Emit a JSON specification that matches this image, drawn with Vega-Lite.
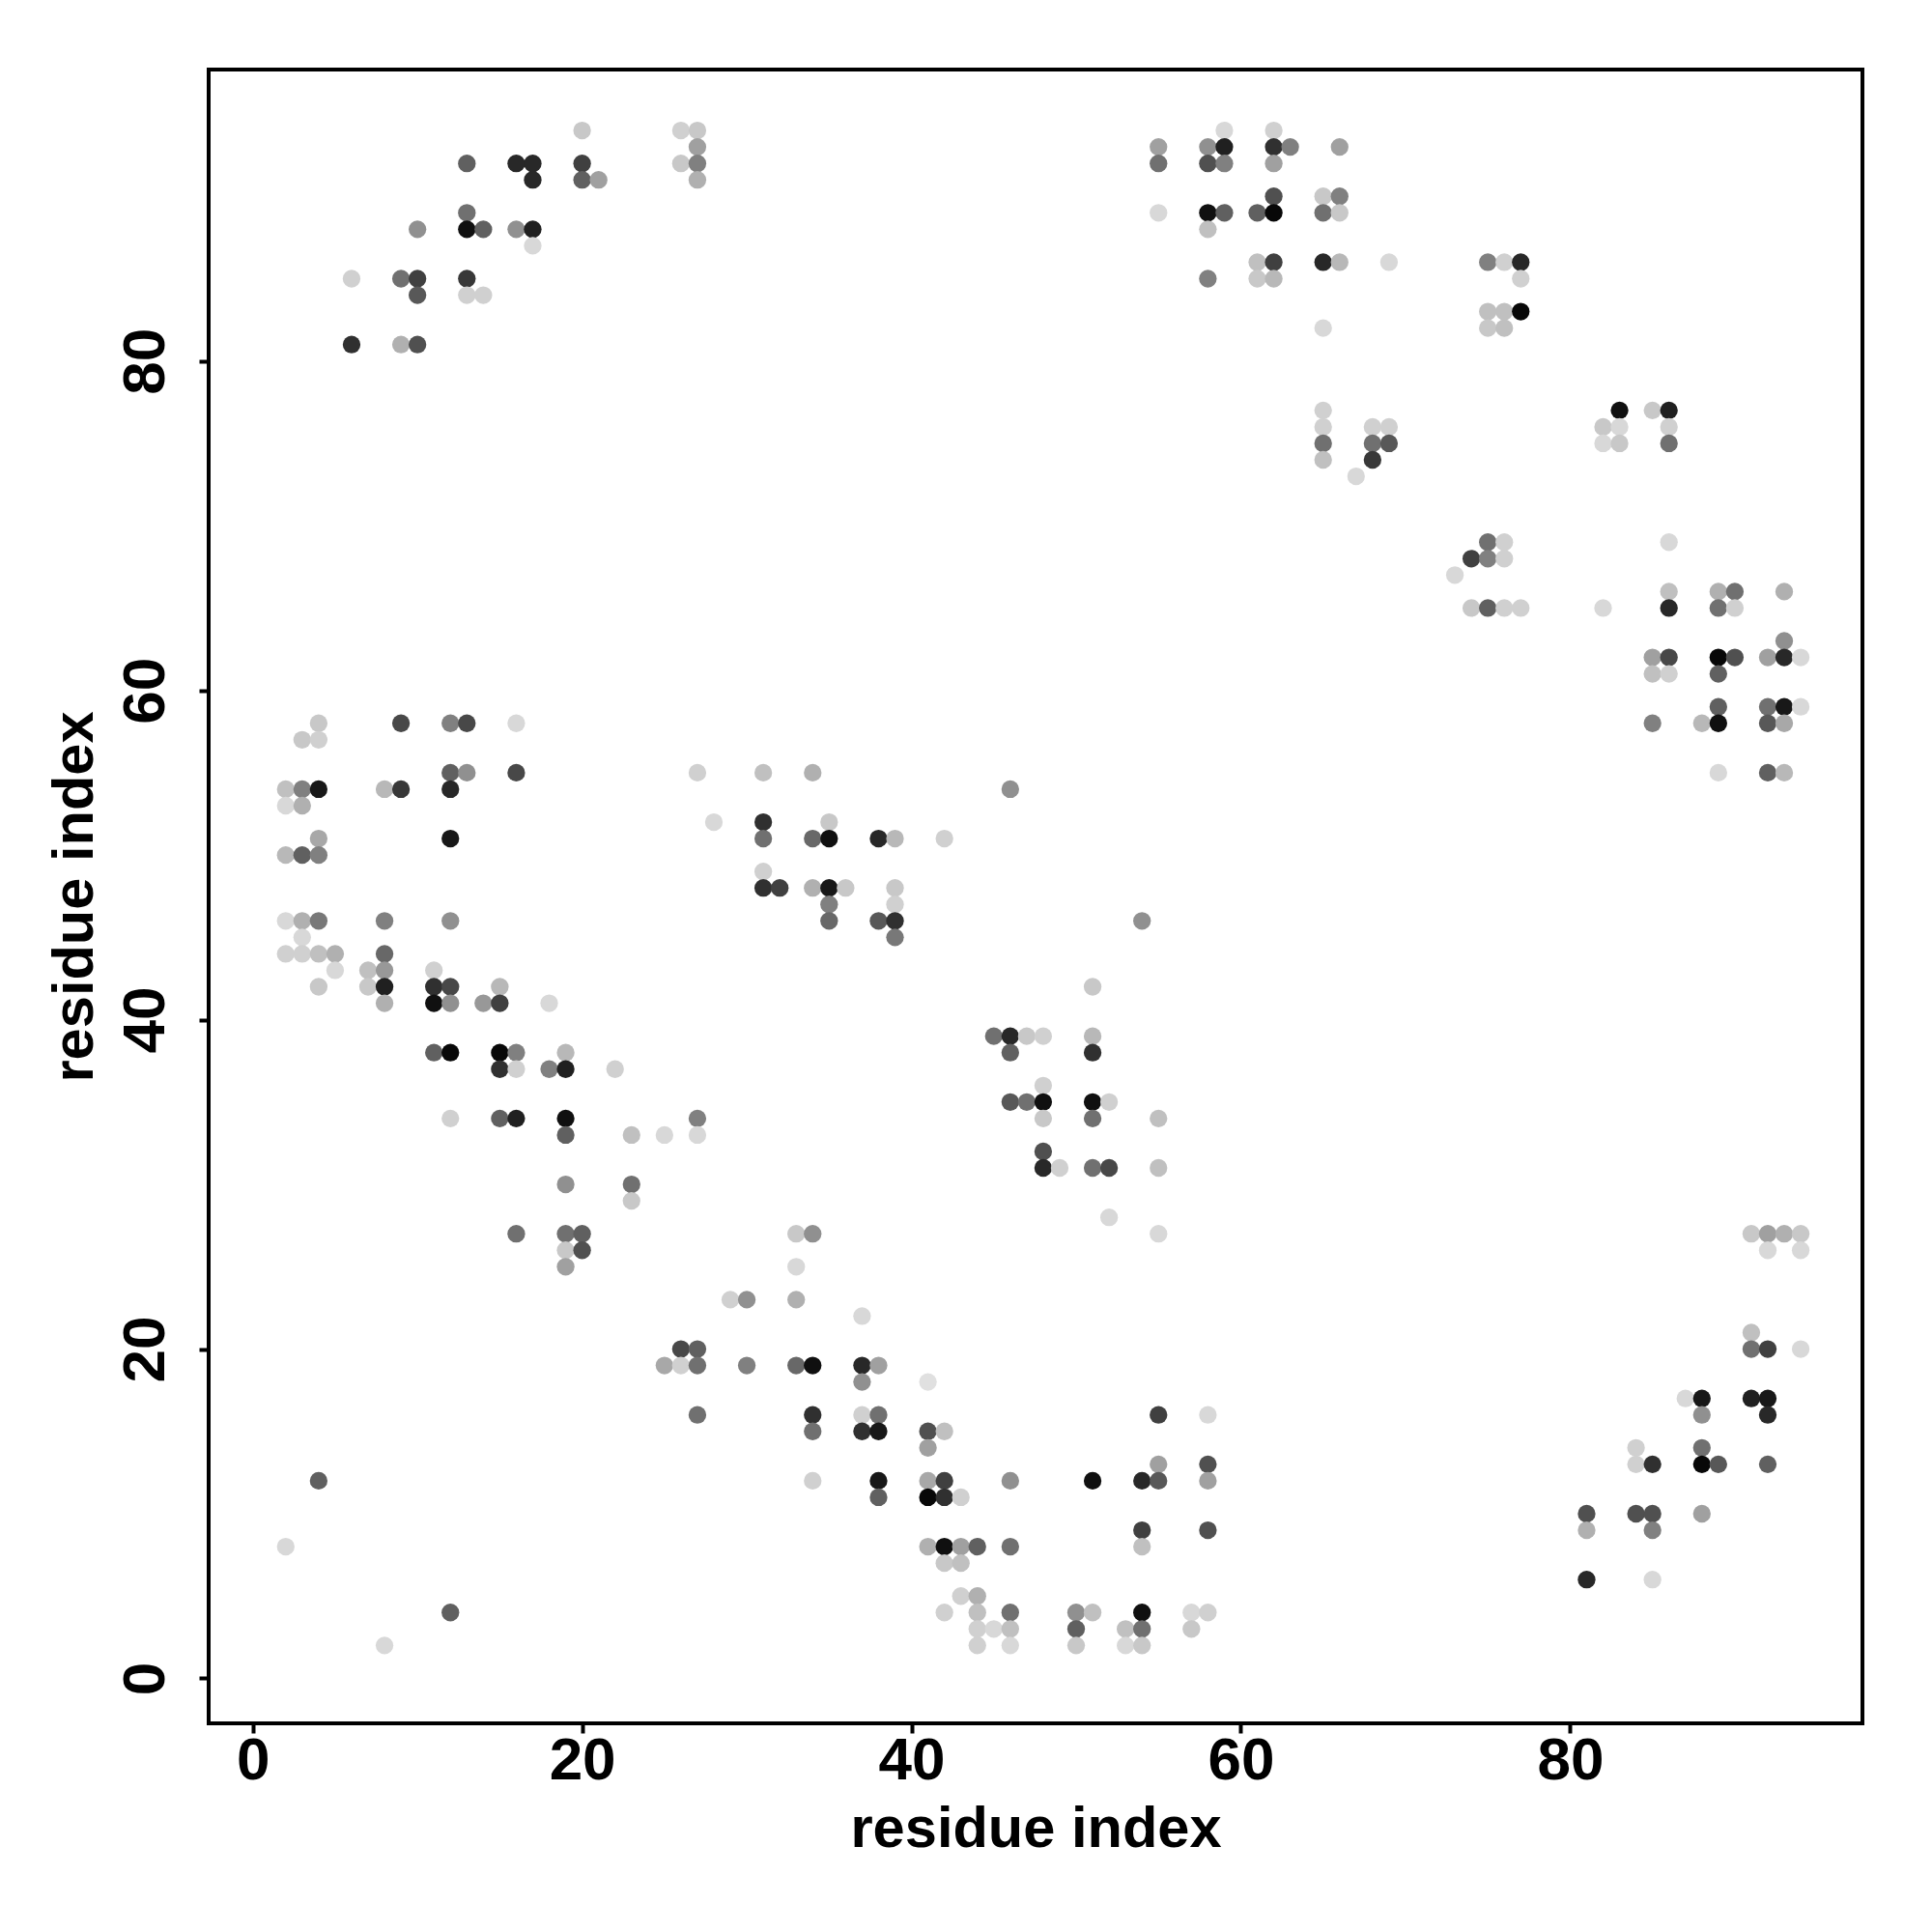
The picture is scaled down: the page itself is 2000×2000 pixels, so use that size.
{"$schema":"https://vega.github.io/schema/vega-lite/v6.json","width":1712,"height":1712,"autosize":"none","padding":{"left":216,"top":72,"right":72,"bottom":216},"background":"white","view":{"stroke":"black","strokeWidth":4,"fill":"white"},
"data":{"values":[
{"x":20,"y":94,"s":55},{"x":26,"y":94,"s":47},{"x":27,"y":94,"s":55},{"x":59,"y":94,"s":39},{"x":62,"y":94,"s":47},
{"x":27,"y":93,"s":95},{"x":55,"y":93,"s":95},{"x":58,"y":93,"s":111},{"x":59,"y":93,"s":223},{"x":62,"y":93,"s":207},{"x":63,"y":93,"s":127},{"x":66,"y":93,"s":95},
{"x":13,"y":92,"s":159},{"x":16,"y":92,"s":215},{"x":17,"y":92,"s":215},{"x":20,"y":92,"s":191},{"x":26,"y":92,"s":55},{"x":27,"y":92,"s":127},{"x":55,"y":92,"s":143},{"x":58,"y":92,"s":175},{"x":59,"y":92,"s":127},{"x":62,"y":92,"s":95},
{"x":17,"y":91,"s":215},{"x":20,"y":91,"s":159},{"x":21,"y":91,"s":95},{"x":27,"y":91,"s":79},
{"x":62,"y":90,"s":175},{"x":65,"y":90,"s":55},{"x":66,"y":90,"s":127},
{"x":13,"y":89,"s":143},{"x":55,"y":89,"s":39},{"x":58,"y":89,"s":239},{"x":59,"y":89,"s":159},{"x":61,"y":89,"s":159},{"x":62,"y":89,"s":247},{"x":65,"y":89,"s":143},{"x":66,"y":89,"s":55},
{"x":10,"y":88,"s":111},{"x":13,"y":88,"s":239},{"x":14,"y":88,"s":159},{"x":16,"y":88,"s":111},{"x":17,"y":88,"s":223},{"x":58,"y":88,"s":63},
{"x":17,"y":87,"s":39},
{"x":61,"y":86,"s":63},{"x":62,"y":86,"s":191},{"x":65,"y":86,"s":215},{"x":66,"y":86,"s":71},{"x":69,"y":86,"s":39},{"x":75,"y":86,"s":127},{"x":76,"y":86,"s":47},{"x":77,"y":86,"s":215},
{"x":6,"y":85,"s":47},{"x":9,"y":85,"s":143},{"x":10,"y":85,"s":191},{"x":13,"y":85,"s":199},{"x":58,"y":85,"s":127},{"x":61,"y":85,"s":55},{"x":62,"y":85,"s":71},{"x":77,"y":85,"s":47},
{"x":10,"y":84,"s":167},{"x":13,"y":84,"s":47},{"x":14,"y":84,"s":47},
{"x":75,"y":83,"s":63},{"x":76,"y":83,"s":63},{"x":77,"y":83,"s":247},
{"x":65,"y":82,"s":39},{"x":75,"y":82,"s":55},{"x":76,"y":82,"s":63},
{"x":6,"y":81,"s":207},{"x":9,"y":81,"s":79},{"x":10,"y":81,"s":175},
{"x":65,"y":77,"s":47},{"x":83,"y":77,"s":239},{"x":85,"y":77,"s":55},{"x":86,"y":77,"s":223},
{"x":65,"y":76,"s":47},{"x":68,"y":76,"s":47},{"x":69,"y":76,"s":47},{"x":82,"y":76,"s":55},{"x":83,"y":76,"s":39},{"x":86,"y":76,"s":47},
{"x":65,"y":75,"s":143},{"x":68,"y":75,"s":143},{"x":69,"y":75,"s":167},{"x":82,"y":75,"s":39},{"x":83,"y":75,"s":55},{"x":86,"y":75,"s":143},
{"x":65,"y":74,"s":63},{"x":68,"y":74,"s":199},
{"x":67,"y":73,"s":39},
{"x":75,"y":69,"s":143},{"x":76,"y":69,"s":47},{"x":86,"y":69,"s":39},
{"x":74,"y":68,"s":191},{"x":75,"y":68,"s":127},{"x":76,"y":68,"s":47},
{"x":73,"y":67,"s":39},
{"x":86,"y":66,"s":63},{"x":89,"y":66,"s":79},{"x":90,"y":66,"s":143},{"x":93,"y":66,"s":79},
{"x":74,"y":65,"s":55},{"x":75,"y":65,"s":159},{"x":76,"y":65,"s":47},{"x":77,"y":65,"s":47},{"x":82,"y":65,"s":39},{"x":86,"y":65,"s":215},{"x":89,"y":65,"s":143},{"x":90,"y":65,"s":47},
{"x":93,"y":63,"s":111},
{"x":85,"y":62,"s":95},{"x":86,"y":62,"s":183},{"x":89,"y":62,"s":247},{"x":90,"y":62,"s":175},{"x":92,"y":62,"s":95},{"x":93,"y":62,"s":215},{"x":94,"y":62,"s":39},
{"x":85,"y":61,"s":63},{"x":86,"y":61,"s":47},{"x":89,"y":61,"s":159},
{"x":89,"y":59,"s":159},{"x":92,"y":59,"s":143},{"x":93,"y":59,"s":231},{"x":94,"y":59,"s":39},
{"x":4,"y":58,"s":55},{"x":9,"y":58,"s":183},{"x":12,"y":58,"s":127},{"x":13,"y":58,"s":183},{"x":16,"y":58,"s":39},{"x":85,"y":58,"s":127},{"x":88,"y":58,"s":71},{"x":89,"y":58,"s":239},{"x":92,"y":58,"s":167},{"x":93,"y":58,"s":87},
{"x":3,"y":57,"s":55},{"x":4,"y":57,"s":47},
{"x":12,"y":55,"s":159},{"x":13,"y":55,"s":111},{"x":16,"y":55,"s":183},{"x":27,"y":55,"s":47},{"x":31,"y":55,"s":63},{"x":34,"y":55,"s":79},{"x":89,"y":55,"s":39},{"x":92,"y":55,"s":159},{"x":93,"y":55,"s":71},
{"x":2,"y":54,"s":63},{"x":3,"y":54,"s":127},{"x":4,"y":54,"s":231},{"x":8,"y":54,"s":71},{"x":9,"y":54,"s":199},{"x":12,"y":54,"s":215},{"x":46,"y":54,"s":111},
{"x":2,"y":53,"s":39},{"x":3,"y":53,"s":79},
{"x":28,"y":52,"s":39},{"x":31,"y":52,"s":207},{"x":35,"y":52,"s":55},
{"x":4,"y":51,"s":87},{"x":12,"y":51,"s":231},{"x":31,"y":51,"s":143},{"x":34,"y":51,"s":151},{"x":35,"y":51,"s":239},{"x":38,"y":51,"s":215},{"x":39,"y":51,"s":71},{"x":42,"y":51,"s":47},
{"x":2,"y":50,"s":71},{"x":3,"y":50,"s":159},{"x":4,"y":50,"s":127},
{"x":31,"y":49,"s":47},
{"x":31,"y":48,"s":207},{"x":32,"y":48,"s":191},{"x":34,"y":48,"s":79},{"x":35,"y":48,"s":231},{"x":36,"y":48,"s":55},{"x":39,"y":48,"s":55},
{"x":35,"y":47,"s":127},{"x":39,"y":47,"s":47},
{"x":2,"y":46,"s":39},{"x":3,"y":46,"s":79},{"x":4,"y":46,"s":135},{"x":8,"y":46,"s":127},{"x":12,"y":46,"s":111},{"x":35,"y":46,"s":151},{"x":38,"y":46,"s":167},{"x":39,"y":46,"s":207},{"x":54,"y":46,"s":111},
{"x":3,"y":45,"s":39},{"x":39,"y":45,"s":135},
{"x":2,"y":44,"s":47},{"x":3,"y":44,"s":47},{"x":4,"y":44,"s":63},{"x":5,"y":44,"s":79},{"x":8,"y":44,"s":151},
{"x":5,"y":43,"s":39},{"x":7,"y":43,"s":63},{"x":8,"y":43,"s":103},{"x":11,"y":43,"s":47},
{"x":4,"y":42,"s":55},{"x":7,"y":42,"s":55},{"x":8,"y":42,"s":223},{"x":11,"y":42,"s":207},{"x":12,"y":42,"s":183},{"x":15,"y":42,"s":71},{"x":51,"y":42,"s":55},
{"x":8,"y":41,"s":79},{"x":11,"y":41,"s":239},{"x":12,"y":41,"s":111},{"x":14,"y":41,"s":103},{"x":15,"y":41,"s":191},{"x":18,"y":41,"s":39},
{"x":45,"y":39,"s":143},{"x":46,"y":39,"s":215},{"x":47,"y":39,"s":55},{"x":48,"y":39,"s":47},{"x":51,"y":39,"s":71},
{"x":11,"y":38,"s":159},{"x":12,"y":38,"s":247},{"x":15,"y":38,"s":247},{"x":16,"y":38,"s":127},{"x":19,"y":38,"s":71},{"x":46,"y":38,"s":159},{"x":51,"y":38,"s":207},
{"x":15,"y":37,"s":207},{"x":16,"y":37,"s":47},{"x":18,"y":37,"s":127},{"x":19,"y":37,"s":223},{"x":22,"y":37,"s":47},
{"x":48,"y":36,"s":47},
{"x":46,"y":35,"s":167},{"x":47,"y":35,"s":143},{"x":48,"y":35,"s":239},{"x":51,"y":35,"s":239},{"x":52,"y":35,"s":47},
{"x":12,"y":34,"s":47},{"x":15,"y":34,"s":159},{"x":16,"y":34,"s":223},{"x":19,"y":34,"s":239},{"x":27,"y":34,"s":127},{"x":48,"y":34,"s":55},{"x":51,"y":34,"s":143},{"x":55,"y":34,"s":63},
{"x":19,"y":33,"s":159},{"x":23,"y":33,"s":63},{"x":25,"y":33,"s":39},{"x":27,"y":33,"s":39},
{"x":48,"y":32,"s":175},
{"x":48,"y":31,"s":215},{"x":49,"y":31,"s":47},{"x":51,"y":31,"s":143},{"x":52,"y":31,"s":183},{"x":55,"y":31,"s":63},
{"x":19,"y":30,"s":111},{"x":23,"y":30,"s":143},
{"x":23,"y":29,"s":55},
{"x":52,"y":28,"s":39},
{"x":16,"y":27,"s":143},{"x":19,"y":27,"s":143},{"x":20,"y":27,"s":159},{"x":33,"y":27,"s":55},{"x":34,"y":27,"s":111},{"x":55,"y":27,"s":39},{"x":91,"y":27,"s":55},{"x":92,"y":27,"s":95},{"x":93,"y":27,"s":79},{"x":94,"y":27,"s":55},
{"x":19,"y":26,"s":55},{"x":20,"y":26,"s":175},{"x":92,"y":26,"s":39},{"x":94,"y":26,"s":39},
{"x":19,"y":25,"s":95},{"x":33,"y":25,"s":39},
{"x":29,"y":23,"s":47},{"x":30,"y":23,"s":111},{"x":33,"y":23,"s":79},
{"x":37,"y":22,"s":39},
{"x":91,"y":21,"s":63},
{"x":26,"y":20,"s":183},{"x":27,"y":20,"s":159},{"x":91,"y":20,"s":143},{"x":92,"y":20,"s":191},{"x":94,"y":20,"s":39},
{"x":25,"y":19,"s":87},{"x":26,"y":19,"s":47},{"x":27,"y":19,"s":143},{"x":30,"y":19,"s":127},{"x":33,"y":19,"s":151},{"x":34,"y":19,"s":239},{"x":37,"y":19,"s":215},{"x":38,"y":19,"s":95},
{"x":37,"y":18,"s":111},{"x":41,"y":18,"s":31},
{"x":87,"y":17,"s":39},{"x":88,"y":17,"s":231},{"x":91,"y":17,"s":223},{"x":92,"y":17,"s":231},
{"x":27,"y":16,"s":143},{"x":34,"y":16,"s":207},{"x":37,"y":16,"s":47},{"x":38,"y":16,"s":143},{"x":55,"y":16,"s":191},{"x":58,"y":16,"s":39},{"x":88,"y":16,"s":111},{"x":92,"y":16,"s":215},
{"x":34,"y":15,"s":143},{"x":37,"y":15,"s":207},{"x":38,"y":15,"s":231},{"x":41,"y":15,"s":175},{"x":42,"y":15,"s":63},
{"x":41,"y":14,"s":95},{"x":84,"y":14,"s":47},{"x":88,"y":14,"s":143},
{"x":55,"y":13,"s":95},{"x":58,"y":13,"s":175},{"x":84,"y":13,"s":47},{"x":85,"y":13,"s":207},{"x":88,"y":13,"s":247},{"x":89,"y":13,"s":167},{"x":92,"y":13,"s":159},
{"x":4,"y":12,"s":159},{"x":34,"y":12,"s":47},{"x":38,"y":12,"s":231},{"x":41,"y":12,"s":87},{"x":42,"y":12,"s":191},{"x":46,"y":12,"s":111},{"x":51,"y":12,"s":239},{"x":54,"y":12,"s":215},{"x":55,"y":12,"s":167},{"x":58,"y":12,"s":95},
{"x":38,"y":11,"s":159},{"x":41,"y":11,"s":247},{"x":42,"y":11,"s":207},{"x":43,"y":11,"s":47},
{"x":81,"y":10,"s":175},{"x":84,"y":10,"s":175},{"x":85,"y":10,"s":175},{"x":88,"y":10,"s":95},
{"x":54,"y":9,"s":191},{"x":58,"y":9,"s":175},{"x":81,"y":9,"s":79},{"x":85,"y":9,"s":127},
{"x":2,"y":8,"s":39},{"x":41,"y":8,"s":79},{"x":42,"y":8,"s":239},{"x":43,"y":8,"s":95},{"x":44,"y":8,"s":159},{"x":46,"y":8,"s":143},{"x":54,"y":8,"s":63},
{"x":42,"y":7,"s":55},{"x":43,"y":7,"s":63},
{"x":81,"y":6,"s":215},{"x":85,"y":6,"s":39},
{"x":43,"y":5,"s":47},{"x":44,"y":5,"s":79},
{"x":12,"y":4,"s":159},{"x":42,"y":4,"s":47},{"x":44,"y":4,"s":63},{"x":46,"y":4,"s":143},{"x":50,"y":4,"s":111},{"x":51,"y":4,"s":63},{"x":54,"y":4,"s":239},{"x":57,"y":4,"s":39},{"x":58,"y":4,"s":47},
{"x":44,"y":3,"s":47},{"x":45,"y":3,"s":39},{"x":46,"y":3,"s":63},{"x":50,"y":3,"s":159},{"x":53,"y":3,"s":63},{"x":54,"y":3,"s":143},{"x":57,"y":3,"s":55},
{"x":8,"y":2,"s":39},{"x":44,"y":2,"s":47},{"x":46,"y":2,"s":39},{"x":50,"y":2,"s":55},{"x":53,"y":2,"s":39},{"x":54,"y":2,"s":55}
]},
"mark":{"type":"point","filled":true,"opacity":1,"size":335,"strokeWidth":0},
"encoding":{
"x":{"field":"x","type":"quantitative","title":"residue index","scale":{"domain":[-2.68,97.75],"nice":false,"zero":false},
"axis":{"values":[0,20,40,60,80],"grid":false,"domain":false,"ticks":true,"tickColor":"black","tickWidth":4,"tickSize":10,"labelFont":"Liberation Sans","labelFontWeight":"bold","labelFontSize":62,"labelColor":"black","labelPadding":-2,"labelFlush":false,"titleFont":"Liberation Sans","titleFontWeight":"bold","titleFontSize":59.6,"titleColor":"black","titlePadding":11}},
"y":{"field":"y","type":"quantitative","title":"residue index","scale":{"domain":[-2.73,97.7],"nice":false,"zero":false},
"axis":{"values":[0,20,40,60,80],"grid":false,"domain":false,"ticks":true,"tickColor":"black","tickWidth":4,"tickSize":10,"labelFont":"Liberation Sans","labelFontWeight":"bold","labelFontSize":62,"labelColor":"black","labelAngle":-90,"labelAlign":"center","labelBaseline":"bottom","labelPadding":24,"labelFlush":false,"titleFont":"Liberation Sans","titleFontWeight":"bold","titleFontSize":59.6,"titleColor":"black","titlePadding":11}},
"color":{"field":"s","type":"quantitative","legend":null,"scale":{"domain":[0,255],"range":["#ffffff","#000000"],"interpolate":"rgb"}}
}}
